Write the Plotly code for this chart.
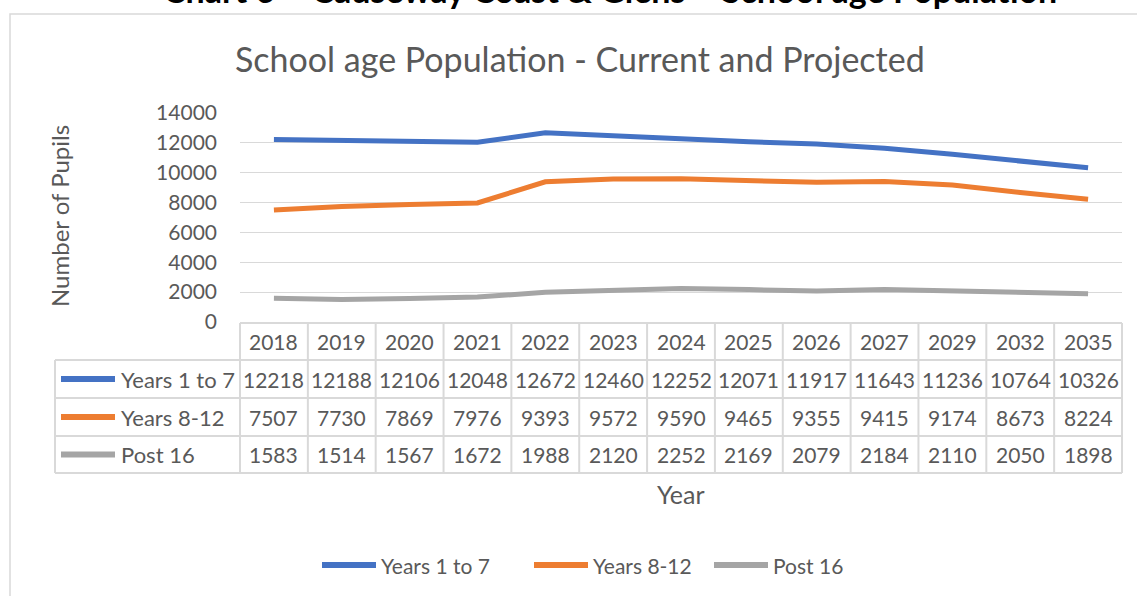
import plotly.graph_objects as go

years = ["2018", "2019", "2020", "2021", "2022", "2023", "2024", "2025", "2026", "2027", "2029", "2032", "2035"]
years_1_7 = [12218, 12188, 12106, 12048, 12672, 12460, 12252, 12071, 11917, 11643, 11236, 10764, 10326]
years_8_12 = [7507, 7730, 7869, 7976, 9393, 9572, 9590, 9465, 9355, 9415, 9174, 8673, 8224]
post_16 = [1583, 1514, 1567, 1672, 1988, 2120, 2252, 2169, 2079, 2184, 2110, 2050, 1898]

series_names = ["Years 1 to 7", "Years 8-12", "Post 16"]
series_values = [years_1_7, years_8_12, post_16]
colors = ["#4472C4", "#ED7D31", "#A5A5A5"]

W, H = 1137, 596
L, R, T, B = 240, 15, 113, 274
PW = W - L - R
PH = H - T - B
FONT = "Lato"
TXT = "#595959"
GRID = "#D9D9D9"


def px_x(px):
    return (px - L) / PW


def px_y(py):
    return (H - B - py) / PH


fig = go.Figure()
for name, vals, c in zip(series_names, series_values, colors):
    fig.add_trace(go.Scatter(x=years, y=vals, name=name, mode="lines", showlegend=False,
                             line=dict(color=c, width=5)))

shapes = []
annotations = []

# outer chart frame
shapes.append(dict(type="rect", xref="paper", yref="paper",
                   x0=px_x(10), x1=px_x(1160), y0=px_y(14), y1=px_y(620),
                   line=dict(color=GRID, width=1.5), fillcolor="rgba(0,0,0,0)", layer="below"))

# data table geometry (pixel rows)
row_edges = [323, 360, 398, 436, 473]
label_left = 55
lw = dict(color=GRID, width=2)
shapes.append(dict(type="line", xref="x domain", yref="paper", x0=0, x1=1,
                   y0=px_y(row_edges[0]), y1=px_y(row_edges[0]), line=lw))
for ry in row_edges[1:]:
    shapes.append(dict(type="line", xref="x domain", yref="paper", x0=px_x(label_left), x1=1,
                       y0=px_y(ry), y1=px_y(ry), line=lw))
for xd in (0, 1):
    shapes.append(dict(type="line", xref="x domain", yref="paper", x0=xd, x1=xd,
                       y0=px_y(row_edges[0]), y1=px_y(row_edges[-1]), line=lw))
for i in range(len(years) - 1):
    shapes.append(dict(type="line", xref="x", yref="paper", x0=i + 0.5, x1=i + 0.5,
                       y0=px_y(row_edges[0]), y1=px_y(row_edges[-1]), line=lw))
shapes.append(dict(type="line", xref="x domain", yref="paper", x0=px_x(label_left), x1=px_x(label_left),
                   y0=px_y(row_edges[1]), y1=px_y(row_edges[-1]), line=lw))

tfont = dict(family=FONT, size=21, color=TXT)
lfont = dict(family=FONT, size=22, color=TXT)
# header years (category axes: annotation x is the category index)
for i, yr in enumerate(years):
    annotations.append(dict(x=i, xref="x", yref="paper", y=px_y((row_edges[0] + row_edges[1]) / 2),
                            text=yr, showarrow=False, font=tfont, xanchor="center", yanchor="middle"))
for r, (name, vals, c) in enumerate(zip(series_names, series_values, colors)):
    yc = px_y((row_edges[r + 1] + row_edges[r + 2]) / 2)
    for i, v in enumerate(vals):
        annotations.append(dict(x=i, xref="x", yref="paper", y=yc, text=str(v), showarrow=False,
                                font=tfont, xanchor="center", yanchor="middle"))
    annotations.append(dict(x=px_x(119), xref="x domain", yref="paper", y=yc, text=name, showarrow=False,
                            font=lfont, xanchor="left", yanchor="middle"))
    shapes.append(dict(type="line", xref="x domain", yref="paper", x0=px_x(61), x1=px_x(115),
                       y0=yc, y1=yc, line=dict(color=c, width=6)))

# bottom legend
leg_icon_x = [322, 534, 714]
for name, c, lx in zip(series_names, colors, leg_icon_x):
    shapes.append(dict(type="line", xref="paper", yref="paper", x0=px_x(lx), x1=px_x(lx + 54),
                       y0=px_y(565), y1=px_y(565), line=dict(color=c, width=6)))
    annotations.append(dict(x=px_x(lx + 57), y=px_y(565), xref="paper", yref="paper", text=name,
                            showarrow=False, font=dict(family=FONT, size=21, color=TXT),
                            xanchor="left", yanchor="middle"))

# titles
annotations.append(dict(x=px_x(580), y=px_y(58), xref="paper", yref="paper",
                        text="School age Population - Current and Projected",
                        showarrow=False, font=dict(family=FONT, size=34, color=TXT),
                        xanchor="center", yanchor="middle"))
annotations.append(dict(x=px_x(610), y=px_y(-10), xref="paper", yref="paper",
                        text="<b>Chart 6 \u2013 Causeway Coast & Glens \u2013 School age Population</b>",
                        showarrow=False, font=dict(family=FONT, size=34, color="#000000"),
                        xanchor="center", yanchor="middle"))
annotations.append(dict(x=px_x(59), y=px_y(216), xref="paper", yref="paper", text="Number of Pupils",
                        textangle=-90, showarrow=False, font=dict(family=FONT, size=24, color=TXT),
                        xanchor="center", yanchor="middle"))
annotations.append(dict(x=px_x(681), y=px_y(494), xref="paper", yref="paper", text="Year",
                        showarrow=False, font=dict(family=FONT, size=25, color=TXT),
                        xanchor="center", yanchor="middle"))

fig.update_layout(
    width=W, height=H,
    margin=dict(l=L, r=R, t=T, b=B, autoexpand=False),
    paper_bgcolor="white", plot_bgcolor="white",
    font=dict(family=FONT, size=21, color=TXT),
    shapes=shapes, annotations=annotations,
    showlegend=False,
    xaxis=dict(type="category", range=[-0.5, len(years) - 0.5], showticklabels=False, showgrid=False,
               zeroline=False, showline=False, ticks=""),
    yaxis=dict(range=[0, 14000], dtick=2000, tick0=0, tickformat="d", showgrid=True, gridcolor=GRID,
               gridwidth=1, zeroline=False, showline=False, ticks="", ticklabelstandoff=22,
               tickfont=dict(family=FONT, size=21, color=TXT)),
)

fig.write_html("out.html", config={"displayModeBar": False},
               post_script="document.body.style.margin='0';document.body.style.overflow='hidden';")
